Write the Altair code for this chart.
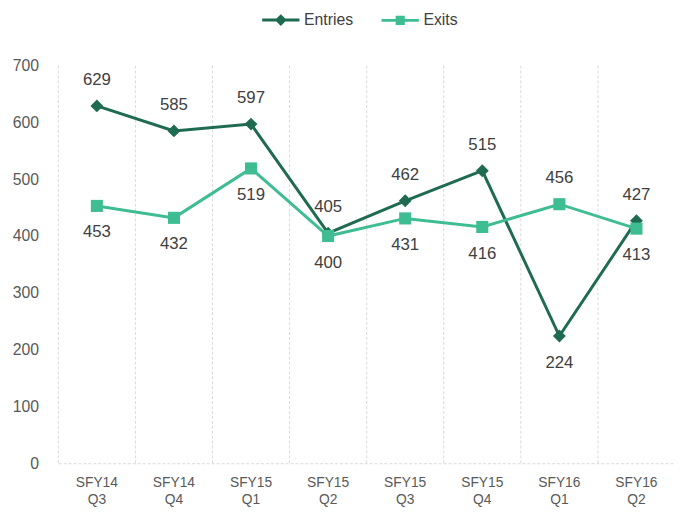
import altair as alt
import pandas as pd

categories = ["SFY14 Q3", "SFY14 Q4", "SFY15 Q1", "SFY15 Q2",
              "SFY15 Q3", "SFY15 Q4", "SFY16 Q1", "SFY16 Q2"]
entries = [629, 585, 597, 405, 462, 515, 224, 427]
exits = [453, 432, 519, 400, 431, 416, 456, 413]
series = ["Entries", "Exits"]
colors = ["#1F6B52", "#3EBD93"]
y_ticks = [0, 100, 200, 300, 400, 500, 600, 700]

df = pd.DataFrame({"cat": categories, "Entries": entries, "Exits": exits})

FONT = "Liberation Sans"
GRID = "#d9d9d9"

x_axis = alt.Axis(title=None, labelExpr="split(datum.label, ' ')", labelAngle=0,
                  labelFontSize=14, labelFont=FONT, labelColor="#595959",
                  ticks=False, domain=True, domainColor=GRID, domainDash=[3, 2],
                  grid=False, labelPadding=13, labelLineHeight=17)
y_axis = alt.Axis(title=None, values=y_ticks, labelFontSize=16, labelFont=FONT,
                  labelColor="#595959", ticks=False, domain=False, grid=False,
                  labelPadding=20, minExtent=45, maxExtent=45)


def X(bp):
    return alt.X("cat:N", sort=categories, bandPosition=bp, axis=x_axis,
                 scale=alt.Scale(type="band", domain=categories,
                                 paddingInner=0, paddingOuter=0))


def Y(field):
    return alt.Y(f"{field}:Q", axis=y_axis,
                 scale=alt.Scale(domain=[0, 700], nice=False))


base = alt.Chart(df)

rules = base.mark_rule(color=GRID, strokeDash=[3, 2], strokeWidth=1).encode(x=X(0))

layers = [rules]
shapes = ["diamond", "square"]
sizes = [170, 150]
for s, c, shp, sz in zip(series, colors, shapes, sizes):
    layers.append(base.mark_line(color=c, strokeWidth=3).encode(x=X(0.5), y=Y(s)))
    layers.append(base.mark_point(shape=shp, filled=True, size=sz, color=c, opacity=1)
                  .encode(x=X(0.5), y=Y(s)))

other = {"Entries": "Exits", "Exits": "Entries"}
for s in series:
    o = other[s]
    layers.append(base.mark_text(dy=-26, fontSize=17, font=FONT, color="#404040")
                  .encode(x=X(0.5), y=Y(s), text=f"{s}:Q")
                  .transform_filter(f"datum['{s}'] >= datum['{o}']"))
    layers.append(base.mark_text(dy=27, fontSize=17, font=FONT, color="#404040")
                  .encode(x=X(0.5), y=Y(s), text=f"{s}:Q")
                  .transform_filter(f"datum['{s}'] < datum['{o}']"))

paths = ["M-2.7,0H2.7M0,-0.55L0.55,0L0,0.55L-0.55,0Z",
         "M-2.7,0H2.7M-0.45,-0.45H0.45V0.45H-0.45Z"]
leg = alt.Legend(title=None, orient="none", direction="horizontal",
                 legendX=217, legendY=-55, symbolSize=196, symbolStrokeWidth=3,
                 symbolOpacity=1, labelFontSize=16, labelFont=FONT,
                 labelColor="#404040", columnPadding=22, labelOffset=15, padding=0)
legend_layer = (alt.Chart(df)
                .transform_fold(series, as_=["series", "val"])
                .mark_point(opacity=0, filled=True)
                .encode(x=X(0.5), y=Y("val"),
                        fill=alt.Fill("series:N", scale=alt.Scale(domain=series, range=colors), legend=leg),
                        stroke=alt.Stroke("series:N", scale=alt.Scale(domain=series, range=colors), legend=leg),
                        shape=alt.Shape("series:N", scale=alt.Scale(domain=series, range=paths), legend=leg)))
layers.append(legend_layer)

chart = (alt.layer(*layers)
         .properties(width=625, height=403,
                     padding={"left": 4, "top": 0, "right": 0, "bottom": 0})
         .configure_view(stroke=None))

chart.save("out.html", embed_options={"renderer": "svg", "actions": False})
